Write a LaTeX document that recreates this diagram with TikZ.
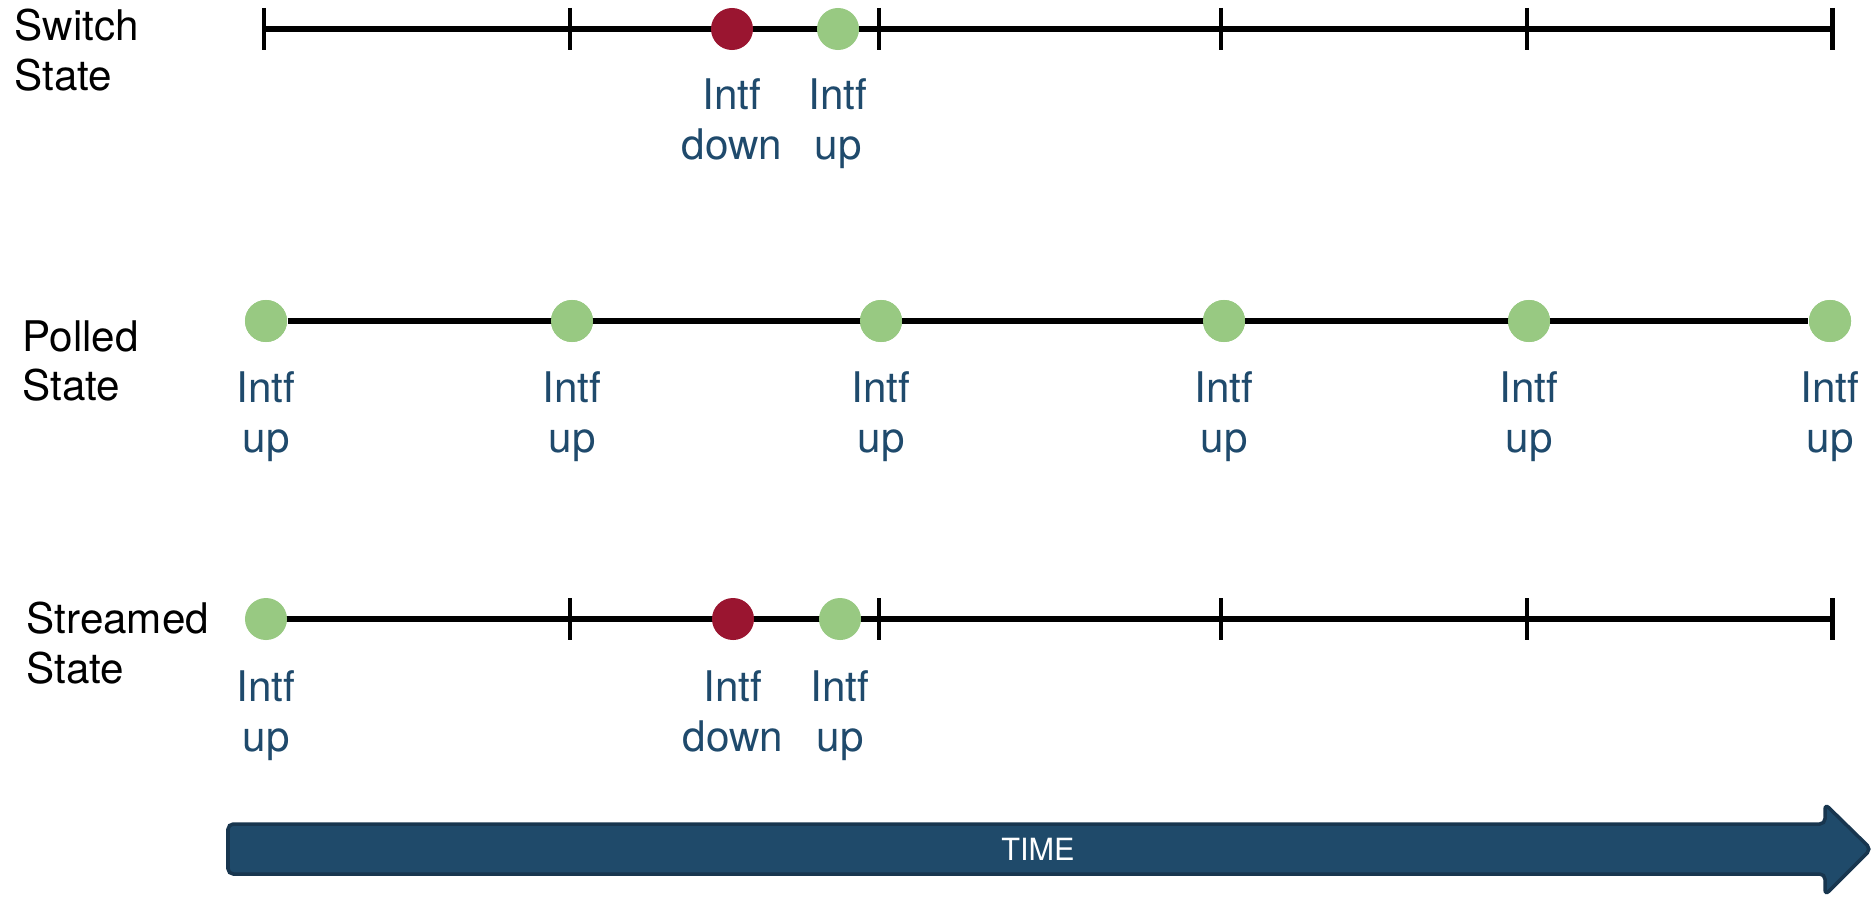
\documentclass[tikz,border=0pt]{standalone}
\usepackage{fontspec}
\setmainfont{TeX Gyre Heros}
\begin{document}
\definecolor{dotgreen}{HTML}{98C982}
\definecolor{dotred}{HTML}{9A1530}
\definecolor{labelblue}{HTML}{1F4A6C}
\definecolor{arrowfill}{HTML}{1F4A6A}
\definecolor{arrowedge}{HTML}{18364F}
\begin{tikzpicture}[x=0.01cm,y=-0.01cm,
  timeline/.style={line width=1.8pt,black},
  tickmark/.style={line width=1.4pt,black},
  dot/.style={circle,inner sep=0pt,minimum size=0.42cm},
  updot/.style={dot,fill=dotgreen},
  downdot/.style={dot,fill=dotred},
  evlabel/.style={text=labelblue,align=center,inner sep=0pt,
    font=\fontsize{12}{14.2}\selectfont},
  rowlabel/.style={text=black,align=left,anchor=west,inner sep=0pt,
    font=\fontsize{12}{14.2}\selectfont}]
\useasboundingbox (0,0) rectangle (1874,900);

% ---------------- Switch State ----------------
\node[rowlabel] (swname) at (14,50) {Switch\\State};
\foreach \i/\x in {1/264,2/570,3/879,4/1221,5/1527,6/1832}{
  \coordinate (sw\i) at (\x,29);
}
\draw[timeline] (sw1) -- (sw6);
\foreach \i in {1,...,6}{
  \draw[tickmark] ([yshift=0.21cm]sw\i) -- ([yshift=-0.21cm]sw\i);
}
\node[downdot] (swdown) at (732,29) {};
\node[updot] (swup) at (838,29) {};
\node[evlabel,anchor=north] (swdownlbl) at (732,78) {Intf\\down};
\node[evlabel,anchor=north] (swuplbl) at (838,78) {Intf\\up};

% ---------------- Polled State ----------------
\node[rowlabel] (plname) at (22,361) {Polled\\State};
\foreach \i/\x in {1/266,2/572,3/881,4/1224,5/1529,6/1830}{
  \node[updot] (pl\i) at (\x,321) {};
}
\draw[timeline] (pl1) -- (pl6);
\foreach \i/\x in {1/266,2/572,3/881,4/1224,5/1529,6/1830}{
  \node[updot] at (pl\i) {};
  \node[evlabel,anchor=north] (pllbl\i) at (\x,371) {Intf\\up};
}

% ---------------- Streamed State ----------------
\node[rowlabel] (stname) at (26,643) {Streamed\\State};
\foreach \i/\x in {1/266,2/570,3/879,4/1221,5/1527,6/1832}{
  \coordinate (st\i) at (\x,619);
}
\draw[timeline] (st1) -- (st6);
\foreach \i in {2,...,6}{
  \draw[tickmark] ([yshift=0.21cm]st\i) -- ([yshift=-0.21cm]st\i);
}
\node[updot] (stfirst) at (st1) {};
\node[downdot] (stdown) at (733,619) {};
\node[updot] (stup) at (840,619) {};
\node[evlabel,anchor=north] (stfirstlbl) at (266,670) {Intf\\up};
\node[evlabel,anchor=north] (stdownlbl) at (733,670) {Intf\\down};
\node[evlabel,anchor=north] (stuplbl) at (840,670) {Intf\\up};

% ---------------- Time arrow ----------------
\draw[fill=arrowfill,draw=arrowedge,line width=1pt,rounded corners=1.5pt]
  (228,824) -- (1825,824) -- (1825,804) -- (1871,849) -- (1825,895)
  -- (1825,874) -- (228,874) -- cycle;
\node[text=white,font=\fontsize{8.7}{10}\selectfont] (time) at (1038,849) {TIME};
\end{tikzpicture}
\end{document}
